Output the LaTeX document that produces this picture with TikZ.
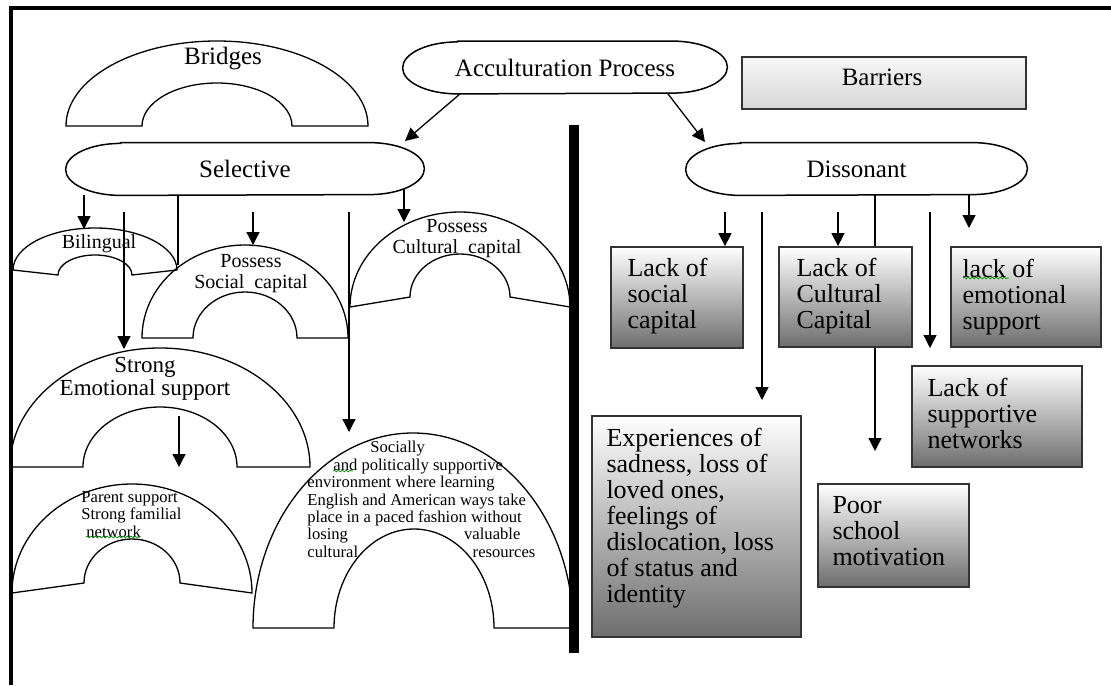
\documentclass[tikz,border=0pt]{standalone}
\usepackage{fontspec}
\setmainfont{Liberation Serif}
\usetikzlibrary{arrows.meta, decorations.pathmorphing}

\begin{document}
\begin{tikzpicture}[x=0.5pt, y=-0.5pt,
    arr/.style={-{Triangle[length=6.5pt, width=6.5pt]}, line width=0.65pt},
    link/.style={line width=0.65pt},
    archline/.style={line width=0.65pt},
    ovalbox/.style={inner sep=0pt, minimum height=26pt, font=\fontsize{12.5}{14}\selectfont},
    ovalline/.style={line width=0.75pt},
    darkbox/.style={draw=black!80, line width=0.9pt, top color=white, bottom color=black!57, inner sep=0pt},
    lightbox/.style={draw=black!80, line width=0.9pt, top color=black!3, bottom color=black!16, inner sep=0pt},
    boxtext/.style={anchor=north west, inner sep=0pt, align=left, font=\fontsize{13}{13}\selectfont},
    bigtext/.style={inner sep=0pt, font=\fontsize{12.5}{14}\selectfont},
    midtext/.style={inner sep=0pt, align=center, font=\fontsize{10}{10.5}\selectfont},
    smalltext/.style={anchor=north west, inner sep=0pt, align=left, font=\fontsize{8.3}{8.7}\selectfont},
    squiggle/.style={green!55!black, line width=0.35pt, decorate, decoration={snake, amplitude=0.45pt, segment length=2pt}}
  ]

\useasboundingbox (0,0) rectangle (1111,685);

% the three ovals
\node[ovalbox, minimum width=162pt] (acc) at (565,67.5) {Acculturation Process\hspace{20pt}};
\node[ovalbox, minimum width=179pt] (sel) at (245,169) {Selective};
\node[ovalbox, minimum width=170.5pt] (dis) at (856.5,169) {Dissonant};

\draw[ovalline] ([xshift=27.5pt]acc.north west) -- ([xshift=-27.5pt]acc.north east)
  arc[start angle=90, end angle=-90, x radius=27.5pt, y radius=13pt]
  -- ([xshift=27.5pt]acc.south west)
  arc[start angle=270, end angle=90, x radius=27.5pt, y radius=13pt] -- cycle;
\draw[ovalline] ([xshift=27.5pt]sel.north west) -- ([xshift=-27.5pt]sel.north east)
  arc[start angle=90, end angle=-90, x radius=27.5pt, y radius=13pt]
  -- ([xshift=27.5pt]sel.south west)
  arc[start angle=270, end angle=90, x radius=27.5pt, y radius=13pt] -- cycle;
\draw[ovalline] ([xshift=27.5pt]dis.north west) -- ([xshift=-27.5pt]dis.north east)
  arc[start angle=90, end angle=-90, x radius=27.5pt, y radius=13pt]
  -- ([xshift=27.5pt]dis.south west)
  arc[start angle=270, end angle=90, x radius=27.5pt, y radius=13pt] -- cycle;

% bridges (arches)
\draw[archline] (66,126) arc[start angle=180, end angle=0, x radius=75.5pt, y radius=42.5pt]
  -- (292,126) arc[start angle=0, end angle=180, x radius=37.5pt, y radius=21.5pt] -- cycle;
\draw[archline] (13,270) arc[start angle=180, end angle=0, x radius=41pt, y radius=21pt]
  -- (132,275) arc[start angle=0, end angle=180, x radius=18.5pt, y radius=10pt] -- cycle;
\draw[archline] (142,338) arc[start angle=180, end angle=0, x radius=51.5pt, y radius=46.5pt]
  -- (297,338) arc[start angle=0, end angle=180, x radius=26pt, y radius=23pt] -- cycle;
\draw[archline] (350,307) arc[start angle=180, end angle=0, x radius=55pt, y radius=47.5pt]
  -- (510,297) arc[start angle=0, end angle=180, x radius=25pt, y radius=21.5pt] -- cycle;
\draw[archline] (10,467) arc[start angle=180, end angle=0, x radius=75pt, y radius=59.5pt]
  -- (237,467) arc[start angle=0, end angle=180, x radius=38.5pt, y radius=30pt] -- cycle;
\draw[archline] (12,593) arc[start angle=180, end angle=0, x radius=60pt, y radius=54.5pt]
  -- (180,583) arc[start angle=0, end angle=180, x radius=24pt, y radius=22pt] -- cycle;
\draw[archline] (253,628) arc[start angle=180, end angle=0, x radius=80pt, y radius=97.5pt]
  -- (494,628) arc[start angle=0, end angle=180, x radius=40pt, y radius=49.5pt] -- cycle;

\node[bigtext] (bri-t) at (223,59) {Bridges};
\node[midtext] (bil-t) at (99,244) {Bilingual};
\node[midtext] (soc-t) at (251,273.5) {Possess\\Social\ \ capital};
\node[midtext] (cul-t) at (457,238.5) {Possess\\Cultural\ \ capital};
\node[midtext, font=\fontsize{11.5}{11.5}\selectfont] (emo-t) at (145,378.5) {Strong\\Emotional support};
\node[smalltext] (par-t) at (81,491) {Parent support\\Strong familial\\\hspace*{2.5pt}network};
\node[smalltext] (socl-t) at (307,441) {\hspace*{31.5pt}Socially\\
  \hspace*{13pt}and politically supportive\\
  environment where learning\\
  English and American ways take\\
  place in a paced fashion without\\
  \makebox[106.5pt][l]{losing\hfill valuable}\\
  \makebox[114pt][l]{cultural\hfill resources}};

% barriers (boxes)
\node[lightbox, minimum width=142pt, minimum height=26pt] (barr) at (884,83) {};
\node[bigtext] (barr-t) at (882,77) {Barriers};

\node[darkbox, minimum width=66pt, minimum height=50.5pt] (lsc) at (677,297.5) {};
\node[darkbox, minimum width=66.5pt, minimum height=50pt] (lcc) at (845.5,297) {};
\node[darkbox, minimum width=75pt, minimum height=50pt] (les) at (1026,297) {};
\node[darkbox, minimum width=85pt, minimum height=50.5pt] (lsn) at (997,416.5) {};
\node[darkbox, minimum width=75.5pt, minimum height=51.5pt] (psm) at (893.5,535.5) {};
\node[darkbox, minimum width=104.5pt, minimum height=110.5pt] (exp) at (696.5,526.5) {};

\node[boxtext] (lsc-t) at ([shift={(17,12)}]lsc.north west) {Lack of\\social\\capital};
\node[boxtext] (lcc-t) at ([shift={(18,12)}]lcc.north west) {Lack of\\Cultural\\Capital};
\node[boxtext] (les-t) at ([shift={(12,13)}]les.north west) {lack of\\emotional\\support};
\node[boxtext] (lsn-t) at ([shift={(16,13)}]lsn.north west) {Lack of\\supportive\\networks};
\node[boxtext] (psm-t) at ([shift={(15,13)}]psm.north west) {Poor\\school\\motivation};
\node[boxtext] (exp-t) at ([shift={(15,13)}]exp.north west) {Experiences of\\sadness, loss of\\loved ones,\\feelings of\\dislocation, loss\\of status and\\identity};

% free arrow ends
\coordinate (sel-tip) at (405,141);
\coordinate (dis-tip) at (705,142);
\coordinate (bil-tip) at (84,229);
\coordinate (emo-from) at (124,212);
\coordinate (emo-tip) at (124,349);
\coordinate (bil-end) at (178,265);
\coordinate (soc-from) at (253,212);
\coordinate (soc-tip) at (253,245);
\coordinate (socl-from) at (349,212);
\coordinate (socl-tip) at (349,432);
\coordinate (sel-out) at (404,189);
\coordinate (cul-tip) at (404,222);
\coordinate (par-from) at (179,416);
\coordinate (par-tip) at (179,467);
\coordinate (lsc-from) at (725,212);
\coordinate (exp-from) at (762,212);
\coordinate (exp-tip) at (762,400);
\coordinate (lcc-from) at (838,212);
\coordinate (psm-tip) at (875,451);
\coordinate (lsn-from) at (930,212);
\coordinate (lsn-tip) at (930,348);
\coordinate (les-tip) at (969,228);

\draw[arr] (460,0 |- acc.south) -- (sel-tip);
\draw[arr] (668,0 |- acc.south) -- (dis-tip);

\draw[arr] (84,0 |- sel.south) -- (bil-tip);
\draw[arr] (emo-from) -- (emo-tip);
\draw[link] (178,0 |- sel.south) -- (bil-end);
\draw[arr] (soc-from) -- (soc-tip);
\draw[arr] (socl-from) -- (socl-tip);
\draw[arr] (sel-out) -- (cul-tip);
\draw[arr] (par-from) -- (par-tip);

\draw[arr] (lsc-from) -- (725,0 |- lsc.north);
\draw[arr] (exp-from) -- (exp-tip);
\draw[arr] (lcc-from) -- (838,0 |- lcc.north);
\draw[link] (875,0 |- dis.south) -- (875,0 |- lcc.north);
\draw[arr] (875,0 |- lcc.south) -- (psm-tip);
\draw[arr] (lsn-from) -- (lsn-tip);
\draw[arr] (969,0 |- dis.south) -- (les-tip);

% spell-check marks
\draw[squiggle] (333,471) -- (353,471);
\draw[squiggle] (86,537) -- (140,537);
\draw[squiggle] (963,278) -- (1009,278);

% divider and frame
\fill (569,125) rectangle (578.5,653);
\draw[line width=2.2pt] (10.8,685) -- (10.8,8) -- (1111,8);
\end{tikzpicture}
\end{document}
